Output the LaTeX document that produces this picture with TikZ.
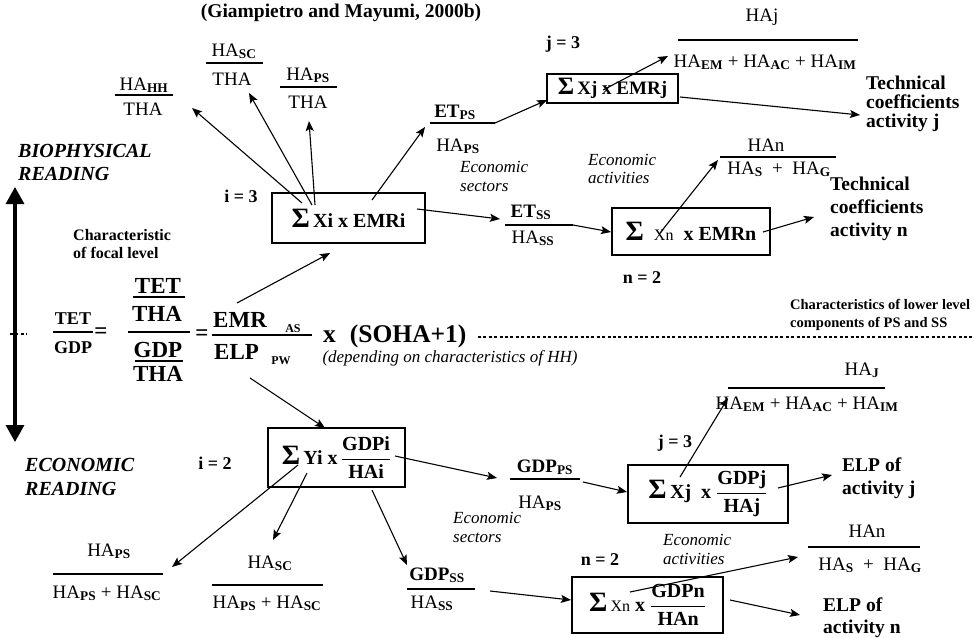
\documentclass[tikz,border=0pt]{standalone}
\usepackage{fontspec}
\setmainfont{Liberation Serif}
\usetikzlibrary{arrows.meta}
% small bold subscript used in all the ratios
\newcommand\sbs[1]{\textsubscript{\bfseries #1}}
% summation sign inside the boxes
\newcommand\Sg{{\fontsize{28}{28}\selectfont Σ}}
% lighter, smaller index letters
\newcommand\sx[1]{{\fontsize{16}{16}\selectfont\mdseries #1}}
% bold stacked ratio inside a box
\newcommand\bfr[2]{$\displaystyle\frac{\hbox{#1}}{\hbox{#2}}$}

\begin{document}
\begin{tikzpicture}[x=1pt,y=-1pt,
  fr/.style={font=\fontsize{19}{21}\selectfont, inner sep=0pt, anchor=base},
  frb/.style={fr, font=\fontsize{19}{21}\selectfont\bfseries},
  fline/.style={line width=1.1pt},
  lab/.style={font=\fontsize{19.5}{22}\selectfont\bfseries, inner sep=0pt, anchor=base west},
  lsm/.style={font=\fontsize{14.5}{17}\selectfont\bfseries, inner sep=0pt, anchor=base west},
  idx/.style={font=\fontsize{18}{20}\selectfont\bfseries, inner sep=0pt, anchor=base},
  itl/.style={font=\fontsize{17}{19}\selectfont\itshape, inner sep=0pt, anchor=base west},
  rd/.style={font=\fontsize{20}{22}\selectfont\bfseries\itshape, inner sep=0pt, anchor=base west},
  eqbig/.style={font=\fontsize{23}{25}\selectfont\bfseries, inner sep=0pt, anchor=base},
  eqsm/.style={font=\fontsize{18}{20}\selectfont\bfseries, inner sep=0pt, anchor=base},
  subx/.style={font=\fontsize{12}{13}\selectfont\bfseries, inner sep=0pt},
  sumbox/.style={draw, line width=1.4pt, inner sep=0pt, font=\fontsize{20}{22}\selectfont\bfseries},
  arr/.style={-{Stealth[length=10pt,width=8pt,inset=2pt]}, line width=1.1pt},
  dotl/.style={line width=2.6pt, dash pattern=on 3pt off 2.4pt},
  bigarr/.style={line width=3.2pt, {Triangle[length=17pt,width=18pt]}-{Triangle[length=17pt,width=18pt]}},
]
\useasboundingbox (0,0) rectangle (974,637);

% ---------------- title and side labels ----------------
\node[font=\fontsize{19.5}{21}\selectfont\bfseries, inner sep=0pt, anchor=base] (title) at (341,17) {(Giampietro and Mayumi, 2000b)};
\node[rd] (bio1) at (18,157) {BIOPHYSICAL};
\node[rd] (bio2) at (18,180) {READING};
\node[rd] (eco1) at (25,471) {ECONOMIC};
\node[rd] (eco2) at (25,495) {READING};
\coordinate (rtop) at (15,187);
\coordinate (rbot) at (15,442);
\draw[bigarr] (rtop) -- (rbot);

\node[lsm, font=\fontsize{16}{18}\selectfont\bfseries] (foc1) at (73,240) {Characteristic};
\node[lsm, font=\fontsize{16}{18}\selectfont\bfseries] (foc2) at (73,258) {of focal level};

% ---------------- central identity ----------------
\coordinate (ldl) at (10,334); \coordinate (ldr) at (27,334);
\draw[dotl] (ldl) -- (ldr);
\node[eqsm] (ltet) at (73,324) {TET};
\draw[line width=1.4pt] (53,332) -- (93,332);
\node[eqsm] (lgdp) at (73,353) {GDP};
\node[eqbig, anchor=center] (eqa) at (101,333) {=};
\node[eqbig] (btet) at (158,293.5) {TET};
\draw[line width=1.4pt] (133,297) -- (185,297);
\node[eqbig] (btha) at (157,321.5) {THA};
\draw[line width=1.6pt] (128,332) -- (190,332);
\node[eqbig] (bgdp) at (158,357.5) {GDP};
\draw[line width=1.4pt] (135,361) -- (183,361);
\node[eqbig] (btha2) at (158,381.5) {THA};
\node[eqbig, anchor=center] (eqc) at (202,335) {=};
\node[eqbig, anchor=base west] (emr) at (213,327.5) {EMR};
\node[subx] (emrs) at (293,329) {AS};
\draw[line width=1.4pt] (212,335) -- (312,335);
\node[eqbig, anchor=base west] (elp) at (214,359.5) {ELP};
\node[subx] (elps) at (281,361) {PW};
\node[eqbig, font=\fontsize{25.5}{27}\selectfont\bfseries, anchor=base west] (soha) at (323,342) {x\hspace{14pt}(SOHA+1)};
\node[itl, anchor=base] (dep) at (450,362) {(depending on characteristics of HH)};
\coordinate (dl) at (478,337); \coordinate (dr) at (972,337);
\draw[dotl] (dl) -- (dr);
\node[lsm] (low1) at (790,309) {Characteristics of lower level};
\node[lsm] (low2) at (790,327) {components of PS and SS};

% ---------------- biophysical side ----------------
\node[sumbox, minimum width=153pt, minimum height=50pt] (xi) at (348.5,218) {\Sg\,Xi x EMRi};
\node[idx] (i3) at (241,202) {i = 3};

\node[fr] (hhn) at (144,90) {HA\sbs{HH}};
\draw[fline] (115,95) -- (173,95);
\node[fr] (hhd) at (143,115) {THA};

\node[fr] (scn) at (234,56) {HA\sbs{SC}};
\draw[fline] (206,63) -- (263,63);
\node[fr] (scd) at (232,85) {THA};

\node[fr] (psn) at (308,80) {HA\sbs{PS}};
\draw[fline] (280,87) -- (337,87);
\node[fr] (psd) at (308,108) {THA};

\node[frb] (etpsn) at (455,117) {ET\sbs{PS}};
\coordinate (etpsl) at (430,123); \coordinate (etpsr) at (495,123);
\draw[fline] (etpsl) -- (etpsr);
\node[fr] (etpsd) at (458,151) {HA\sbs{PS}};
\node[itl] (sec1) at (460,172) {Economic};
\node[itl] (sec2) at (460,191) {sectors};

\node[frb] (etssn) at (531,217) {ET\sbs{SS}};
\coordinate (etssl) at (505,225); \coordinate (etssr) at (573,225);
\draw[fline] (etssl) -- (etssr);
\node[fr] (etssd) at (533,243) {HA\sbs{SS}};

\node[sumbox, minimum width=131pt, minimum height=29pt, font=\fontsize{19}{21}\selectfont\bfseries] (xju) at (612.5,88.5) {{\fontsize{25}{25}\selectfont Σ}\,Xj x EMRj};
\node[idx] (j3u) at (563,48) {j = 3};
\node[fr] (hajn) at (762,21) {HAj};
\draw[fline] (678,40) -- (858,40);
\node[fr] (hajd) at (765,67) {HA\sbs{EM} + HA\sbs{AC} + HA\sbs{IM}};
\node[lab] (tj1) at (866,89) {Technical};
\node[lab] (tj2) at (866,108) {coefficients};
\node[lab] (tj3) at (866,127) {activity j};
\node[itl] (act1) at (588,165) {Economic};
\node[itl] (act2) at (588,183) {activities};

\node[sumbox, minimum width=158pt, minimum height=47pt] (xnu) at (691,231.5) {\Sg\ \ \sx{Xn}\ \ x EMRn};
\node[idx] (n2u) at (642,283) {n = 2};
\node[fr] (hann) at (766,151) {HAn};
\draw[fline] (720,157) -- (836,157);
\node[fr] (hand) at (779,174) {HA\sbs{S}\ \ +\ \ HA\sbs{G}};
\node[lab] (tn1) at (830,190) {Technical};
\node[lab] (tn2) at (830,213) {coefficients};
\node[lab] (tn3) at (830,236) {activity n};

% connectors, upper half
\coordinate (a1s) at (302,203); \coordinate (a1e) at (192,108);
\coordinate (a2s) at (312,205); \coordinate (a2e) at (249,93);
\coordinate (a3s) at (315,205); \coordinate (a3e) at (309,121);
\coordinate (a4s) at (372,200); \coordinate (a4e) at (425,127);
\coordinate (a5s) at (417,209); \coordinate (a5e) at (500,219);
\coordinate (a6e) at (547,100);
\coordinate (a7s) at (603,90);  \coordinate (a7e) at (668,56);
\coordinate (a8s) at (680,97);  \coordinate (a8e) at (860,115);
\coordinate (a9e) at (611,232);
\coordinate (a10s) at (660,233); \coordinate (a10e) at (718,160);
\coordinate (a11s) at (763,232); \coordinate (a11e) at (814,217);
\coordinate (a12s) at (237,303); \coordinate (a12e) at (330,253);
\draw[arr] (a1s) -- (a1e);
\draw[arr] (a2s) -- (a2e);
\draw[arr] (a3s) -- (a3e);
\draw[arr] (a4s) -- (a4e);
\draw[arr] (a5s) -- (a5e);
\draw[arr] (etpsr) -- (a6e);
\draw[arr] (a7s) -- (a7e);
\draw[arr] (a8s) -- (a8e);
\draw[arr] (etssr) -- (a9e);
\draw[arr] (a10s) -- (a10e);
\draw[arr] (a11s) -- (a11e);
\draw[arr] (a12s) -- (a12e);

% ---------------- economic side ----------------
\node[sumbox, minimum width=137pt, minimum height=59pt] (yi) at (336.5,457.5) {\Sg\,Yi x\,\bfr{GDPi}{HAi}};
\node[idx] (i2) at (215,469) {i = 2};

\node[fr] (pspn) at (109,556) {HA\sbs{PS}};
\draw[fline] (53,574) -- (163,574);
\node[fr] (pspd) at (107,598) {HA\sbs{PS} + HA\sbs{SC}};

\node[fr] (scpn) at (270,568) {HA\sbs{SC}};
\draw[fline] (212,585) -- (323,585);
\node[fr] (scpd) at (267,608) {HA\sbs{PS} + HA\sbs{SC}};

\node[frb] (gssn) at (437,580) {GDP\sbs{SS}};
\draw[fline] (407,589) -- (475,589);
\node[fr] (gssd) at (432,608) {HA\sbs{SS}};

\node[frb] (gpsn) at (545,472) {GDP\sbs{PS}};
\coordinate (gpsl) at (510,479); \coordinate (gpsr) at (580,479);
\draw[fline] (gpsl) -- (gpsr);
\node[fr] (gpsd) at (540,508) {HA\sbs{PS}};
\node[itl] (lsec1) at (453,523) {Economic};
\node[itl] (lsec2) at (453,542) {sectors};

\node[sumbox, minimum width=160pt, minimum height=58pt] (xjl) at (708,494) {\Sg\,Xj\ \ x\ \bfr{GDPj}{HAj}};
\node[idx] (j3l) at (675,447) {j = 3};
\node[fr] (hajln) at (862,375) {HA\sbs{J}};
\draw[fline] (728,388) -- (885,388);
\node[fr] (hajld) at (807,409) {HA\sbs{EM} + HA\sbs{AC} + HA\sbs{IM}};
\node[lab] (ej1) at (842,471) {ELP of};
\node[lab] (ej2) at (842,494) {activity j};
\node[itl] (lact1) at (663,545) {Economic};
\node[itl] (lact2) at (663,564) {activities};

\node[sumbox, minimum width=151pt, minimum height=56pt] (xnl) at (647.5,605) {\Sg\,\sx{Xn} x \bfr{GDPn}{HAn}};
\node[idx] (n2l) at (600,565) {n = 2};
\node[fr] (hanln) at (867,537) {HAn};
\draw[fline] (808,547) -- (920,547);
\node[fr] (hanld) at (870,570) {HA\sbs{S}\ \ +\ \ HA\sbs{G}};
\node[lab] (en1) at (823,611) {ELP of};
\node[lab] (en2) at (823,633) {activity n};

% connectors, lower half
\coordinate (b1s) at (250,378); \coordinate (b1e) at (325,428);
\coordinate (b2s) at (395,456); \coordinate (b2e) at (497,478);
\coordinate (b3s) at (583,482); \coordinate (b3e) at (627,492);
\coordinate (b4s) at (680,477); \coordinate (b4e) at (728,398);
\coordinate (b5s) at (778,488); \coordinate (b5e) at (832,475);
\coordinate (b6s) at (372,490); \coordinate (b6e) at (407,565);
\coordinate (b7s) at (307,473); \coordinate (b7e) at (273,540);
\coordinate (b8s) at (298,465); \coordinate (b8e) at (172,567);
\coordinate (b9s) at (490,591); \coordinate (b9e) at (571,600);
\coordinate (b10s) at (630,592); \coordinate (b10e) at (798,557);
\coordinate (b11s) at (730,600); \coordinate (b11e) at (800,615);
\draw[arr] (b1s) -- (b1e);
\draw[arr] (b2s) -- (b2e);
\draw[arr] (b3s) -- (b3e);
\draw[arr] (b4s) -- (b4e);
\draw[arr] (b5s) -- (b5e);
\draw[arr] (b6s) -- (b6e);
\draw[arr] (b7s) -- (b7e);
\draw[arr] (b8s) -- (b8e);
\draw[arr] (b9s) -- (b9e);
\draw[arr] (b10s) -- (b10e);
\draw[arr] (b11s) -- (b11e);
\end{tikzpicture}
\end{document}
